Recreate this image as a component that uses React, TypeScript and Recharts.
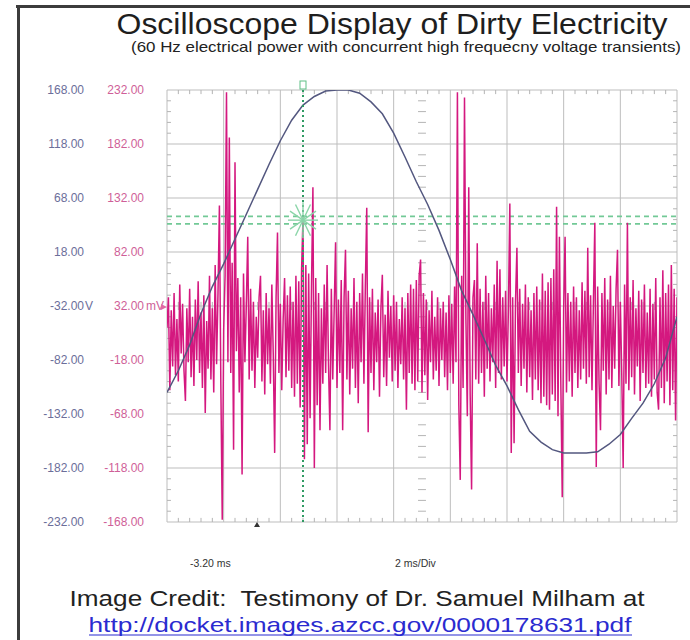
import { LineChart, Line, XAxis, YAxis, CartesianGrid, ReferenceLine, ReferenceDot } from 'recharts'

// time axis (ms), 2 ms per division
const TIME_DOMAIN: [number, number] = [-3.2, 14.8]
const TIME_TICKS = [-3.2, -1.2, 0.8, 2.8, 4.8, 6.8, 8.8, 10.8, 12.8, 14.8]
const MINOR_TIME_TICKS = [
  -2.8, -2.4, -2, -1.6, -0.8, -0.4, 0, 0.4, 1.2, 1.6, 2, 2.4, 3.2, 3.6, 4, 4.4, 5.2, 5.6, 6, 6.4, 7.2, 7.6, 8, 8.4,
  9.2, 9.6, 10, 10.4, 11.2, 11.6, 12, 12.4, 13.2, 13.6, 14, 14.4,
]
const CENTER_T = 5.8

// channel 1 (volts) and channel 2 (millivolts)
const VOLT_DOMAIN: [number, number] = [-232, 168]
const VOLT_TICKS = [168, 118, 68, 18, -32, -82, -132, -182, -232]
const MV_DOMAIN: [number, number] = [-168, 232]
const MV_TICKS = [232, 182, 132, 82, 32, -18, -68, -118, -168]
const MINOR_VOLT_TICKS = [
  158, 148, 138, 128, 108, 98, 88, 78, 58, 48, 38, 28, 8, -2, -12, -22, -42, -52, -62, -72, -92, -102, -112, -122,
  -142, -152, -162, -172, -192, -202, -212, -222,
]
const CENTER_V = -32

// 60 Hz mains trace
const SINE_T = [
  -3.2, -2.8, -2.4, -2, -1.6, -1.2, -0.8, -0.4, 0, 0.4, 0.8, 1.2, 1.6, 2, 2.4, 2.8, 3.2, 3.6, 4, 4.4, 4.8, 5.2, 5.6,
  6, 6.4, 6.8, 7.2, 7.6, 8, 8.4, 8.8, 9.2, 9.6, 10, 10.4, 10.8, 11.2, 11.6, 12, 12.4, 12.8, 13.2, 13.6, 14, 14.4, 14.8,
]
const SINE_V = [
  -112, -92, -68, -39, -14, 7, 30, 53, 76, 99, 121, 140, 154, 162, 167, 168, 168, 165, 157, 146, 128, 106, 83, 62,
  38, 11, -18, -40, -63, -87, -106, -128, -148, -158, -165, -168, -168, -168, -167, -160, -151, -136, -122, -104,
  -80, -42,
]

// high frequency transients (mV), one sample every 0.05 ms from -3.2 ms
const NOISE_START_MS = -3.2
const NOISE_STEP_MS = 0.05
const NOISE_MV = [
  12, 40, -46, 28, -24, 44, -32, 20, -38, 52, -12, 34, -28, -56, 30, -20, 48, -34, 22, -42,
  38, -18, 55, -30, 26, -44, 42, -67, 18, -26, 60, -36, 30, -48, 70, -22, 44, 125, -40, -166,
  10, 60, 230, -20, 188, -30, 72, -101, 165, -10, 58, -48, 40, -124, 62, -20, 34, 96, -36, 48,
  -28, 36, -44, 22, -16, 40, 60, -38, 28, -50, 44, -22, 30, -40, 52, -12, -104, 40, 100, -30,
  34, -46, 20, 58, -34, 42, -28, 50, -44, 36, -52, 60, -40, 55, -62, 66, 114, -110, 70, -96,
  62, -72, 50, 142, -118, 58, -60, 44, -83, 30, -40, 52, -30, 70, -22, -83, 48, -36, 28, 91,
  -44, 38, -30, 56, -83, 40, 84, -36, 46, -50, 30, -26, 58, -44, 36, -58, 44, -20, 62, -40,
  50, 123, -85, 40, -30, 48, -46, 26, -20, 38, -52, 30, 61, -34, 24, -42, 46, -16, 32, -38,
  42, -28, 36, -44, 20, -22, 40, -36, 30, -64, 44, -30, 52, -40, 48, -46, 56, -38, 60, 75,
  -48, 44, -32, 38, -55, 28, -20, 46, -36, 22, -28, 40, -42, 30, -18, 36, -34, 26, -46, 42,
  -30, 34, -40, 50, -20, 230, -60, -129, 60, -44, 225, 20, -70, 142, -50, -138, 40, 56, -36, 90,
  -40, 48, -30, 36, -52, 60, -26, 44, -38, 30, -20, 52, -44, 74, -30, 66, -36, 40, -24, 46,
  -38, 30, 127, -104, 40, -95, 36, 86, -30, 48, -42, 34, -26, 52, -48, 40, -34, 28, -55, 44,
  -36, 50, -46, 38, -58, 62, -52, 46, -60, 54, -64, 58, -50, 66, -56, 124, -70, 96, -40, -145,
  30, 96, -48, 44, -38, 36, -52, 50, -30, 40, -44, 28, -36, 54, -26, 46, -40, 86, -34, 42,
  -46, 36, 109, -117, 50, -40, -83, 44, -28, 58, -50, 38, -36, 60, -44, 32, -26, 48, 84, -42,
  36, -30, -118, 52, -40, 109, -46, 40, -34, 56, -50, 30, -24, 46, -56, 38, -30, 52, -44, 26,
  -40, 48, -52, 34, -36, 58, -48, -64, 40, -44, 65, -58, 44, -38, 52, -60, 70, -46, 48, -74,
  40,
]

// green cursors
const CURSOR_T = 1.6
const CURSOR_V_HI = 51
const CURSOR_V_LO = 44
const CURSOR_STAR_V = 47.5

// minor tick length in axis units (about 4px)
const TICK_LEN_V = 3.8
const TICK_LEN_T = 0.14

const sineData = SINE_T.map((t, i) => ({ t, v: SINE_V[i] }))
const noiseData = NOISE_MV.map((mv, i) => ({ t: NOISE_START_MS + i * NOISE_STEP_MS, mv }))

const VOLT_COLOR = '#6b6e9a'
const MV_COLOR = '#cf5f98'
const GRID = '#bdbdbd'
const MINOR = '#b4b4b4'

function VoltTick({ x, y, payload }: any) {
  const v = payload.value as number
  return (
    <g>
      <text x={x} y={y} dy="0.35em" textAnchor="end" fill={VOLT_COLOR} fontSize={12}>
        {v.toFixed(2)}
      </text>
      {v === -32 && (
        <text x={x + 1} y={y} dy="0.35em" fill={VOLT_COLOR} fontSize={12}>
          V
        </text>
      )}
    </g>
  )
}

function MvTick({ x, y, payload }: any) {
  const v = payload.value as number
  return (
    <g>
      <text x={x} y={y} dy="0.35em" textAnchor="end" fill={MV_COLOR} fontSize={12}>
        {v.toFixed(2)}
      </text>
      {v === 32 && (
        <text x={x + 2} y={y} dy="0.35em" fill={MV_COLOR} fontSize={12}>
          mV
        </text>
      )}
    </g>
  )
}

function CursorStar({ cx, cy }: any) {
  const arms = [0, 30, 60, 90, 120, 150]
  return (
    <g stroke="#8ad5a8" strokeWidth={1.4}>
      {arms.map((a) => {
        const r = (a * Math.PI) / 180
        const dx = Math.cos(r) * 15
        const dy = Math.sin(r) * 18
        return <line key={a} x1={cx - dx} y1={cy - dy} x2={cx + dx} y2={cy + dy} />
      })}
    </g>
  )
}

function minorTicks() {
  const [vMin, vMax] = VOLT_DOMAIN
  const [tMin, tMax] = TIME_DOMAIN
  const out: any[] = []
  MINOR_TIME_TICKS.forEach((t) => {
    out.push([{ x: t, y: vMax }, { x: t, y: vMax - TICK_LEN_V }])
    out.push([{ x: t, y: vMin }, { x: t, y: vMin + TICK_LEN_V }])
    out.push([{ x: t, y: CENTER_V - TICK_LEN_V }, { x: t, y: CENTER_V + TICK_LEN_V }])
  })
  MINOR_VOLT_TICKS.forEach((v) => {
    out.push([{ x: tMin, y: v }, { x: tMin + TICK_LEN_T, y: v }])
    out.push([{ x: tMax, y: v }, { x: tMax - TICK_LEN_T, y: v }])
    out.push([{ x: CENTER_T - TICK_LEN_T, y: v }, { x: CENTER_T + TICK_LEN_T, y: v }])
  })
  return out.map((seg, i) => (
    <ReferenceLine key={`m${i}`} xAxisId="t" yAxisId="v" segment={seg} stroke={MINOR} strokeWidth={1} />
  ))
}

export default function App() {
  return (
    <div
      style={{
        position: 'absolute',
        left: 0,
        top: 0,
        width: 690,
        height: 640,
        background: '#fff',
        fontFamily: '"Liberation Sans", Arial, sans-serif',
      }}
    >
      <LineChart width={690} height={640} margin={{ top: 90, right: 13, bottom: 118, left: 0 }}>
        <XAxis xAxisId="t" dataKey="t" type="number" domain={TIME_DOMAIN} ticks={TIME_TICKS} hide allowDataOverflow />
        <YAxis
          yAxisId="mv"
          orientation="left"
          width={70}
          type="number"
          domain={MV_DOMAIN}
          ticks={MV_TICKS}
          interval={0}
          axisLine={false}
          tickLine={false}
          tickSize={0}
          tickMargin={23}
          tick={<MvTick />}
          allowDataOverflow
        />
        <YAxis
          yAxisId="v"
          orientation="left"
          width={97}
          type="number"
          domain={VOLT_DOMAIN}
          ticks={VOLT_TICKS}
          interval={0}
          axisLine={false}
          tickLine={false}
          tickSize={0}
          tickMargin={13}
          tick={<VoltTick />}
          allowDataOverflow
        />
        <CartesianGrid xAxisId="t" yAxisId="v" stroke={GRID} />
        {minorTicks()}
        <ReferenceLine xAxisId="t" yAxisId="v" y={CURSOR_V_HI} stroke="#72c996" strokeWidth={1.6} strokeDasharray="5 4" />
        <ReferenceLine xAxisId="t" yAxisId="v" y={CURSOR_V_LO} stroke="#72c996" strokeWidth={1.6} strokeDasharray="5 4" />
        <Line
          xAxisId="t"
          yAxisId="mv"
          data={noiseData}
          dataKey="mv"
          type="linear"
          stroke="#d4187f"
          strokeWidth={1.5}
          dot={false}
          isAnimationActive={false}
        />
        <Line
          xAxisId="t"
          yAxisId="v"
          data={sineData}
          dataKey="v"
          type="linear"
          stroke="#53577f"
          strokeWidth={1.5}
          dot={false}
          isAnimationActive={false}
        />
        <ReferenceLine xAxisId="t" yAxisId="v" x={CURSOR_T} stroke="#2f9a63" strokeWidth={2} strokeDasharray="2 3" />
        <ReferenceDot xAxisId="t" yAxisId="v" x={CURSOR_T} y={CURSOR_STAR_V} r={0} shape={<CursorStar />} />
      </LineChart>

      <svg width={690} height={640} style={{ position: 'absolute', left: 0, top: 0, pointerEvents: 'none' }}>
        <line x1={16} y1={6.5} x2={690} y2={6.5} stroke="#3c3c3c" strokeWidth={3} />
        <line x1={18.5} y1={5} x2={18.5} y2={640} stroke="#3c3c3c" strokeWidth={3} />
        <text x={392} y={34} textAnchor="middle" fontSize={29} fill="#1e1e1e" textLength={551} lengthAdjust="spacingAndGlyphs">
          Oscilloscope Display of Dirty Electricity
        </text>
        <text x={406} y={52} textAnchor="middle" fontSize={14.5} fill="#222" textLength={550} lengthAdjust="spacingAndGlyphs">
          (60 Hz electrical power with concurrent high frequecny voltage transients)
        </text>
        <rect x={300} y={81} width={6} height={8} fill="none" stroke="#5fbf85" strokeWidth={1} />
        <path d="M161 304 L167 307 L161 310 Z" fill="#e06aa5" />
        <path d="M254 527 L257 522 L260 527 Z" fill="#333" />
        <text x={190} y={567} fontSize={10.5} fill="#333">
          -3.20 ms
        </text>
        <text x={395} y={567} fontSize={10.5} fill="#333">
          2 ms/Div
        </text>
        <text
          x={357}
          y={606}
          textAnchor="middle"
          fontSize={22}
          fill="#222"
          textLength={575}
          lengthAdjust="spacingAndGlyphs"
          style={{ whiteSpace: 'pre' }}
        >
          {'Image Credit:  Testimony of Dr. Samuel Milham at'}
        </text>
        <text x={360} y={632} textAnchor="middle" fontSize={21} fill="#2b2bd0" textLength={543} lengthAdjust="spacingAndGlyphs">
          http://docket.images.azcc.gov/0000178631.pdf
        </text>
        <line x1={89} y1={635} x2={632} y2={635} stroke="#2b2bd0" strokeWidth={1.2} />
      </svg>
    </div>
  )
}
